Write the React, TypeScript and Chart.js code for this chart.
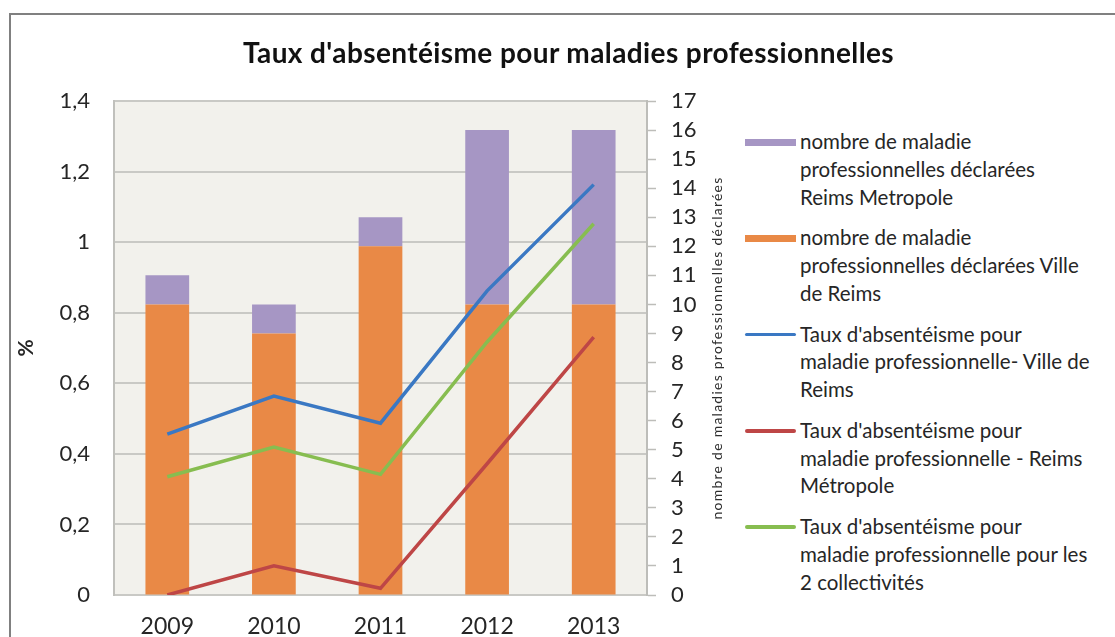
import React, { useEffect, useRef } from 'react';
import { Chart, registerables } from 'chart.js';

Chart.register(...registerables);

const years = ['2009', '2010', '2011', '2012', '2013'];
const villeCount = [10, 9, 12, 10, 10];
const metroCount = [1, 1, 1, 6, 6];
const tauxVille = [0.456, 0.564, 0.487, 0.862, 1.163];
const tauxMetro = [0.0, 0.083, 0.019, 0.372, 0.731];
const tauxTotal = [0.335, 0.419, 0.342, 0.717, 1.052];
const leftTickLabels = ['0', '0,2', '0,4', '0,6', '0,8', '1', '1,2', '1,4'];

const chartTitle = "Taux d'absentéisme pour maladies professionnelles";
const leftAxisTitle = '%';
const rightAxisTitle = 'nombre de maladies professionnelles déclarées';

const labelMetroCount = ['nombre de maladie', 'professionnelles déclarées', 'Reims Metropole'];
const labelVilleCount = ['nombre de maladie', 'professionnelles déclarées Ville', 'de Reims'];
const labelTauxVille = ["Taux d'absentéisme pour", 'maladie professionnelle- Ville de', 'Reims'];
const labelTauxMetro = ["Taux d'absentéisme pour", 'maladie professionnelle - Reims', 'Métropole'];
const labelTauxTotal = ["Taux d'absentéisme pour", 'maladie professionnelle pour les', '2 collectivités'];

const C_ORANGE = '#e98946';
const C_PURPLE = '#a696c4';
const C_BLUE = '#3a78c3';
const C_RED = '#be4646';
const C_GREEN = '#87bd50';

const FONT = 'Lato, "Open Sans", sans-serif';
const TEXT = '#262626';

const legendItems = [
  { lines: labelMetroCount, color: C_PURPLE, kind: 'bar' },
  { lines: labelVilleCount, color: C_ORANGE, kind: 'bar' },
  { lines: labelTauxVille, color: C_BLUE, kind: 'line' },
  { lines: labelTauxMetro, color: C_RED, kind: 'line' },
  { lines: labelTauxTotal, color: C_GREEN, kind: 'line' },
];

const bgPlugin = {
  id: 'plotBg',
  beforeDraw(chart: any) {
    const { ctx, chartArea } = chart;
    if (!chartArea) return;
    ctx.save();
    ctx.fillStyle = '#f2f1ec';
    ctx.fillRect(chartArea.left, chartArea.top, chartArea.right - chartArea.left, chartArea.bottom - chartArea.top);
    ctx.restore();
  },
};

const rightTitlePlugin = {
  id: 'rightTitle',
  afterDraw(chart: any) {
    const { ctx, chartArea } = chart;
    ctx.save();
    ctx.font = `14px ${FONT}`;
    const target = 343;
    const w = ctx.measureText(rightAxisTitle).width;
    const sp = Math.max(0, (target - w) / rightAxisTitle.length);
    (ctx as any).letterSpacing = `${sp}px`;
    ctx.translate(chartArea.right + 70, (chartArea.top + chartArea.bottom) / 2);
    ctx.rotate(-Math.PI / 2);
    ctx.textAlign = 'center';
    ctx.textBaseline = 'middle';
    ctx.fillStyle = '#2e2e2e';
    ctx.fillText(rightAxisTitle, 0, 0);
    ctx.restore();
  },
};

export default function App() {
  const ref = useRef<HTMLCanvasElement | null>(null);

  useEffect(() => {
    if (!ref.current) return;
    const chart = new Chart(ref.current, {
      type: 'bar',
      data: {
        labels: years,
        datasets: [
          {
            type: 'line',
            label: labelTauxVille.join(' '),
            data: tauxVille,
            borderColor: C_BLUE,
            backgroundColor: C_BLUE,
            borderWidth: 3.5,
            pointRadius: 0,
            tension: 0,
            yAxisID: 'yL',
            order: 0,
          },
          {
            type: 'line',
            label: labelTauxMetro.join(' '),
            data: tauxMetro,
            borderColor: C_RED,
            backgroundColor: C_RED,
            borderWidth: 3.5,
            pointRadius: 0,
            tension: 0,
            yAxisID: 'yL',
            order: 0,
          },
          {
            type: 'line',
            label: labelTauxTotal.join(' '),
            data: tauxTotal,
            borderColor: C_GREEN,
            backgroundColor: C_GREEN,
            borderWidth: 3.5,
            pointRadius: 0,
            tension: 0,
            yAxisID: 'yL',
            order: 0,
          },
          {
            type: 'bar',
            label: labelVilleCount.join(' '),
            data: villeCount,
            backgroundColor: C_ORANGE,
            borderWidth: 0,
            yAxisID: 'yR',
            barPercentage: 1,
            categoryPercentage: 0.41,
            order: 1,
          },
          {
            type: 'bar',
            label: labelMetroCount.join(' '),
            data: metroCount,
            backgroundColor: C_PURPLE,
            borderWidth: 0,
            yAxisID: 'yR',
            barPercentage: 1,
            categoryPercentage: 0.41,
            order: 1,
          },
        ] as any,
      },
      options: {
        responsive: false,
        animation: false,
        devicePixelRatio: 1,
        layout: { padding: { top: 101, left: 0, right: 0, bottom: 0 } },
        plugins: {
          legend: { display: false },
          title: { display: false },
          tooltip: { enabled: false },
        },
        scales: {
          x: {
            stacked: true,
            grid: { display: false, drawTicks: false },
            border: { display: false },
            ticks: { font: { family: FONT, size: 23 }, color: TEXT, padding: 18 },
            afterFit: (s: any) => { s.height = 42; },
          },
          yL: {
            position: 'left',
            min: 0,
            max: 1.4,
            ticks: {
              stepSize: 0.2,
              autoSkip: false,
              font: { family: FONT, size: 22 },
              color: TEXT,
              padding: 24,
              callback: (_v: any, i: number) => leftTickLabels[i],
            },
            grid: { color: '#c9c9c5', lineWidth: 2, drawTicks: false },
            border: { display: true, color: '#c0c0bc', width: 2 },
            title: {
              display: true,
              text: leftAxisTitle,
              font: { family: FONT, size: 21, weight: 'bold' },
              color: TEXT,
              padding: { top: 14, bottom: 0 },
            },
            afterFit: (s: any) => { s.width = 114; },
          },
          yR: {
            position: 'right',
            stacked: true,
            min: 0,
            max: 17,
            ticks: {
              stepSize: 1,
              autoSkip: false,
              font: { family: FONT, size: 22 },
              color: TEXT,
              padding: 15,
            },
            grid: { drawOnChartArea: false, drawTicks: true, tickLength: 9, tickColor: '#bdbdb9', tickWidth: 1.5 },
            border: { display: true, color: '#bdbdb9', width: 2 },
            afterFit: (s: any) => { s.width = 98; },
          },
        },
      } as any,
      plugins: [bgPlugin, rightTitlePlugin],
    });
    return () => chart.destroy();
  }, []);

  return (
    <div style={{ position: 'absolute', left: 0, top: 0, width: 1115, height: 637, overflow: 'hidden', background: '#ffffff' }}>
      <div style={{ position: 'absolute', left: 9, top: 13, width: 1200, height: 800, border: '2px solid #808080', boxSizing: 'border-box' }} />
      <canvas ref={ref} width={745} height={637} style={{ position: 'absolute', left: 0, top: 0, width: 745, height: 637 }} />
      <div style={{ position: 'absolute', left: 0, width: 1137, top: 34, textAlign: 'center', fontFamily: FONT, fontWeight: 700, fontSize: 28, letterSpacing: '0.4px', lineHeight: '36px', color: '#111' }}>
        {chartTitle}
      </div>
      {legendItems.map((it, i) => {
        const center = 142 + 96.25 * i;
        const h = it.kind === 'bar' ? 7 : 3.5;
        return (
          <div key={i}>
            <div style={{ position: 'absolute', left: 745, width: 51, top: center - h / 2, height: h, background: it.color, borderRadius: it.kind === 'line' ? 2 : 0 }} />
            <div style={{ position: 'absolute', left: 800, top: center - 13.85, fontFamily: FONT, fontSize: 20.5, lineHeight: '27.7px', color: TEXT, whiteSpace: 'nowrap' }}>
              {it.lines.map((l, j) => (<div key={j}>{l}</div>))}
            </div>
          </div>
        );
      })}
    </div>
  );
}
